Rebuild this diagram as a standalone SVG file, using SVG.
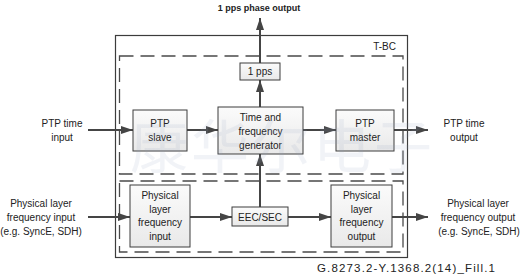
<svg xmlns="http://www.w3.org/2000/svg" width="528" height="280" viewBox="0 0 528 280">
<style>
.t{font-family:"Liberation Sans",Arial,sans-serif;font-size:10px;fill:#222;text-anchor:middle}
.b{fill:url(#g);stroke:#3c3c3c;stroke-width:1}
.d{fill:none;stroke:#4a4a4a;stroke-width:1.3;stroke-dasharray:14 7}
.c{stroke:#454545;stroke-width:2;fill:none;marker-end:url(#a)}
</style>
<defs>
<linearGradient id="g" x1="0" y1="0" x2="0" y2="1"><stop offset="0" stop-color="#fbfbfb"/><stop offset="1" stop-color="#e9e9e9"/></linearGradient>
<marker id="a" viewBox="0 0 12 8" refX="12" refY="4" markerWidth="6" markerHeight="4" orient="auto" markerUnits="strokeWidth"><path d="M0,0L12,4L0,8z" fill="#454545"/></marker>
</defs>
<rect width="528" height="280" fill="#fff"/>
<g id="tbc">
<rect x="115.5" y="35.5" width="292" height="222" fill="none" stroke="#3c3c3c" stroke-width="1.2"/>
<text class="t" x="396" y="50" style="text-anchor:end">T-BC</text>
</g>
<rect id="upper" class="d" x="119.5" y="56" width="283.5" height="118"/>
<rect id="lower" class="d" x="119.5" y="181" width="283.5" height="71"/>
<g id="connectors">
<line class="c" x1="260" y1="63" x2="260" y2="18"/>
<line class="c" x1="260" y1="107" x2="260" y2="80"/>
<line class="c" x1="260" y1="207" x2="260" y2="154"/>
<line class="c" x1="88" y1="130" x2="133" y2="130"/>
<line class="c" x1="187" y1="130" x2="218" y2="130"/>
<line class="c" x1="303" y1="130" x2="336" y2="130"/>
<line class="c" x1="394" y1="130" x2="428" y2="130"/>
<line class="c" x1="88" y1="217" x2="130" y2="217"/>
<line class="c" x1="190" y1="217" x2="232" y2="217"/>
<line class="c" x1="288" y1="217" x2="331" y2="217"/>
<line class="c" x1="392" y1="217" x2="428" y2="217"/>
</g>
<g id="pps"><rect class="b" x="240" y="63" width="40" height="17"/><text class="t" x="260" y="75">1 pps</text></g>
<g id="gen"><rect class="b" x="218" y="107" width="85" height="47"/><text class="t" x="260.5" y="121">Time and</text><text class="t" x="260.5" y="135">frequency</text><text class="t" x="260.5" y="149">generator</text></g>
<g id="slave"><rect class="b" x="133" y="110" width="54" height="41"/><text class="t" x="160" y="127">PTP</text><text class="t" x="160" y="141">slave</text></g>
<g id="master"><rect class="b" x="336" y="110" width="58" height="41"/><text class="t" x="365" y="127">PTP</text><text class="t" x="365" y="141">master</text></g>
<g id="phyin"><rect class="b" x="130" y="185" width="60" height="62"/><text class="t" x="160" y="199">Physical</text><text class="t" x="160" y="212.5">layer</text><text class="t" x="160" y="226">frequency</text><text class="t" x="160" y="239.5">input</text></g>
<g id="eec"><rect class="b" x="232" y="207" width="56" height="19"/><text class="t" x="260" y="221">EEC/SEC</text></g>
<g id="phyout"><rect class="b" x="331" y="185" width="61" height="62"/><text class="t" x="361.5" y="199">Physical</text><text class="t" x="361.5" y="212.5">layer</text><text class="t" x="361.5" y="226">frequency</text><text class="t" x="361.5" y="239.5">output</text></g>
<g id="labels">
<text class="t" x="259" y="11" style="font-weight:bold;font-size:9px">1 pps phase output</text>
<text class="t" x="62" y="127">PTP time</text><text class="t" x="62" y="141">input</text>
<text class="t" x="464" y="127">PTP time</text><text class="t" x="464" y="141">output</text>
<text class="t" x="41" y="207">Physical layer</text><text class="t" x="41" y="221">frequency input</text><text class="t" x="41" y="235">(e.g. SyncE, SDH)</text>
<text class="t" x="478" y="207">Physical layer</text><text class="t" x="478" y="221">frequency output</text><text class="t" x="479" y="235">(e.g. SyncE, SDH)</text>
<text class="t" x="317" y="272" style="text-anchor:start;font-size:11.5px" textLength="178" lengthAdjust="spacing">G.8273.2-Y.1368.2(14)_Fill.1</text>
</g>
<text x="130" y="168" style="font-family:'Noto Sans CJK SC',sans-serif;font-size:58px;fill:#8fa3bf;fill-opacity:0.13;letter-spacing:3px">康华尔电子</text>
</svg>
